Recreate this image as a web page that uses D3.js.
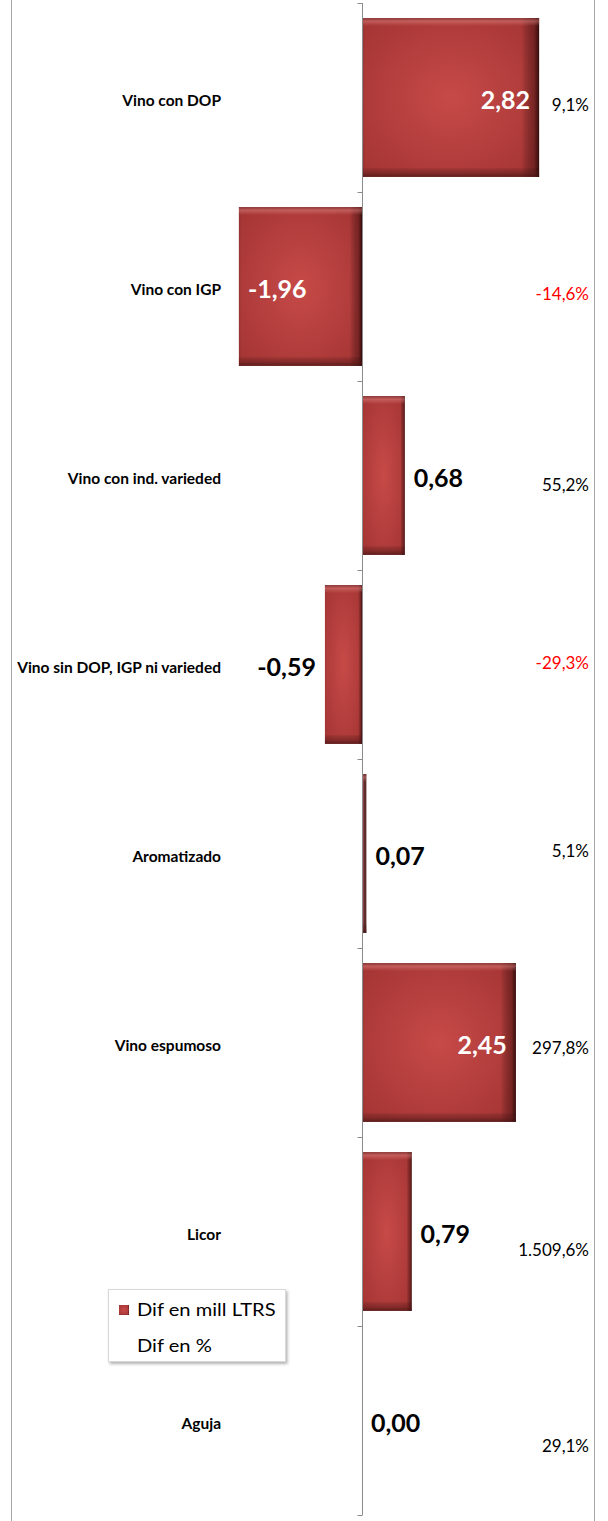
<!DOCTYPE html>
<html>
<head>
<meta charset="utf-8">
<script src="https://cdn.jsdelivr.net/npm/d3@7"></script>
<style>
  html, body { margin: 0; padding: 0; background: #fff; }
  svg { display: block; }
</style>
</head>
<body>
<div id="chart"></div>
<script>
// ---- data ----
const categories = ["Vino con DOP", "Vino con IGP", "Vino con ind. varieded", "Vino sin DOP, IGP ni varieded", "Aromatizado", "Vino espumoso", "Licor", "Aguja"];
const difMill = [2.82, -1.96, 0.68, -0.59, 0.07, 2.45, 0.79, 0.00];
const difPct = [9.1, -14.6, 55.2, -29.3, 5.1, 297.8, 1509.6, 29.1];
const seriesNames = ["Dif en mill LTRS", "Dif en %"];

// label layout tweaks (vertical nudges of the % labels, px)
const pctNudge = [7, 7, 9, -2, -3, 5, 18, 25];

const W = 608, H = 1521;
const FONT = "Lato, 'Open Sans', sans-serif";

const loc = d3.formatLocale({ decimal: ",", thousands: ".", grouping: [3], currency: ["", "€"], minus: "-" });
const fmtVal = loc.format(",.2f");
const fmtPct = loc.format(",.1f");

const svg = d3.select("#chart").append("svg").attr("width", W).attr("height", H);
const defs = svg.append("defs");

const rg = defs.append("radialGradient").attr("id", "barFill").attr("cx", "50%").attr("cy", "50%").attr("r", "70%");
rg.append("stop").attr("offset", "0%").attr("stop-color", "#c64a48");
rg.append("stop").attr("offset", "100%").attr("stop-color", "#a33433");

const hg = defs.append("linearGradient").attr("id", "barH").attr("x1", 0).attr("x2", 1).attr("y1", 0).attr("y2", 0);
[[0, "#7a2a2a", 0.55], [0.03, "#b84040", 0.0], [0.9, "#000", 0.0], [0.97, "#3a0c0c", 0.45], [1, "#1e0505", 0.85]]
  .forEach(([o, c, a]) => hg.append("stop").attr("offset", o).attr("stop-color", c).attr("stop-opacity", a));

const vg = defs.append("linearGradient").attr("id", "barV").attr("x1", 0).attr("x2", 0).attr("y1", 0).attr("y2", 1);
[[0, "#6a2a2a", 0.6], [0.02, "#e08a86", 0.45], [0.05, "#e08a86", 0.0], [0.94, "#000", 0.0], [0.97, "#4a1515", 0.35], [1, "#3a1010", 0.7]]
  .forEach(([o, c, a]) => vg.append("stop").attr("offset", o).attr("stop-color", c).attr("stop-opacity", a));

const flt = defs.append("filter").attr("id", "shadow").attr("x", "-10%").attr("y", "-10%").attr("width", "130%").attr("height", "140%");
flt.append("feDropShadow").attr("dx", 1.5).attr("dy", 2).attr("stdDeviation", 1.5).attr("flood-color", "#000").attr("flood-opacity", 0.3);

// ---- frame ----
svg.append("line").attr("x1", 11.5).attr("x2", 11.5).attr("y1", 0).attr("y2", H).attr("stroke", "#a6a6a6");
svg.append("line").attr("x1", 594.5).attr("x2", 594.5).attr("y1", 0).attr("y2", H).attr("stroke", "#a6a6a6");

// ---- scales ----
const x = d3.scaleLinear().domain([-3, 3.5]).range([362 - 3 * 62.8, 362 + 3.5 * 62.8]);
const y = d3.scaleBand().domain(categories).range([3, 1515]).paddingInner(0.16).paddingOuter(0.08);

const rows = categories.map((c, i) => ({ c, v: difMill[i], p: difPct[i], i }));

// ---- bars ----
const bars = svg.append("g");
rows.forEach(d => {
  const x0 = Math.min(x(0), x(d.v)), w = Math.abs(x(d.v) - x(0));
  if (w <= 0.01) return;
  const g = bars.append("g");
  if (w < 10) {
    // very thin bar: bevel edges dominate -> dark brownish look
    g.append("rect").attr("x", x0).attr("y", y(d.c)).attr("width", w).attr("height", y.bandwidth()).attr("fill", "#5e2c2c");
    g.append("rect").attr("x", x0).attr("y", y(d.c)).attr("width", Math.min(1.5, w)).attr("height", y.bandwidth()).attr("fill", "#b25555");
    g.append("rect").attr("x", x0).attr("y", y(d.c)).attr("width", w).attr("height", y.bandwidth()).attr("fill", "url(#barV)");
    return;
  }
  g.append("rect").attr("x", x0).attr("y", y(d.c)).attr("width", w).attr("height", y.bandwidth()).attr("fill", "url(#barFill)");
  g.append("rect").attr("x", x0).attr("y", y(d.c)).attr("width", w).attr("height", y.bandwidth()).attr("fill", "url(#barH)");
  g.append("rect").attr("x", x0).attr("y", y(d.c)).attr("width", w).attr("height", y.bandwidth()).attr("fill", "url(#barV)");
});

// ---- axis (category axis at x=0) ----
const axisX = Math.round(x(0)) + 0.5;
const bounds = categories.map(c => y(c) - y.step() * y.paddingInner() / 2).concat([1515]);
bounds[0] = 3;
svg.append("g").selectAll("line").data(bounds).join("line")
  .attr("x1", axisX - 5).attr("x2", axisX).attr("y1", d => Math.round(d) + 0.5).attr("y2", d => Math.round(d) + 0.5)
  .attr("stroke", "#8c8c8c");
svg.append("line").attr("x1", axisX).attr("x2", axisX).attr("y1", 3).attr("y2", 1515).attr("stroke", "#8c8c8c");

// ---- category labels ----
svg.append("g").selectAll("text").data(rows).join("text")
  .attr("x", 221).attr("y", d => y(d.c) + y.bandwidth() / 2 + 2)
  .attr("text-anchor", "end").attr("dominant-baseline", "central")
  .attr("font-family", FONT).attr("font-weight", "bold").attr("font-size", 15.5).attr("fill", "#000")
  .text(d => d.c);

// ---- value labels ----
svg.append("g").selectAll("text").data(rows).join("text")
  .each(function (d) {
    const w = Math.abs(x(d.v) - x(0));
    const inside = w > 100;
    const neg = d.v < 0;
    let tx, anchor;
    if (inside) { tx = neg ? x(d.v) + 9 : x(d.v) - 9; anchor = neg ? "start" : "end"; }
    else { tx = neg ? x(d.v) - 9 : x(d.v) + 9; anchor = neg ? "end" : "start"; }
    d3.select(this).attr("x", tx).attr("text-anchor", anchor).attr("fill", inside ? "#fff" : "#000");
  })
  .attr("y", d => y(d.c) + y.bandwidth() / 2 + 1.5)
  .attr("dominant-baseline", "central")
  .attr("font-family", FONT).attr("font-weight", "bold").attr("font-size", 25)
  .text(d => fmtVal(d.v));

// ---- percent labels ----
svg.append("g").selectAll("text").data(rows).join("text")
  .attr("x", 589).attr("y", d => y(d.c) + y.bandwidth() / 2 + pctNudge[d.i])
  .attr("text-anchor", "end").attr("dominant-baseline", "central")
  .attr("font-family", FONT).attr("font-size", 17)
  .attr("fill", d => d.p < 0 ? "#ff0000" : "#000")
  .text(d => fmtPct(d.p) + "%");

// ---- legend ----
const lg = svg.append("g").attr("transform", "translate(108,1289)");
lg.append("rect").attr("width", 178).attr("height", 73).attr("fill", "#fff").attr("filter", "url(#shadow)");
lg.append("rect").attr("x", 0.5).attr("y", 0.5).attr("width", 177).attr("height", 72).attr("fill", "#fff").attr("stroke", "#d9d9d9");
const mk = lg.append("g");
["url(#barFill)", "url(#barH)", "url(#barV)"].forEach(f =>
  mk.append("rect").attr("x", 11).attr("y", 16).attr("width", 10).attr("height", 10).attr("fill", f));
lg.selectAll("text.lt").data(seriesNames).join("text").attr("class", "lt")
  .attr("transform", (d, i) => `translate(29,${21 + i * 36}) scale(1.22,1)`)
  .attr("dominant-baseline", "central")
  .attr("font-family", FONT).attr("font-size", 16.5).attr("fill", "#000")
  .text(d => d);
</script>
</body>
</html>
